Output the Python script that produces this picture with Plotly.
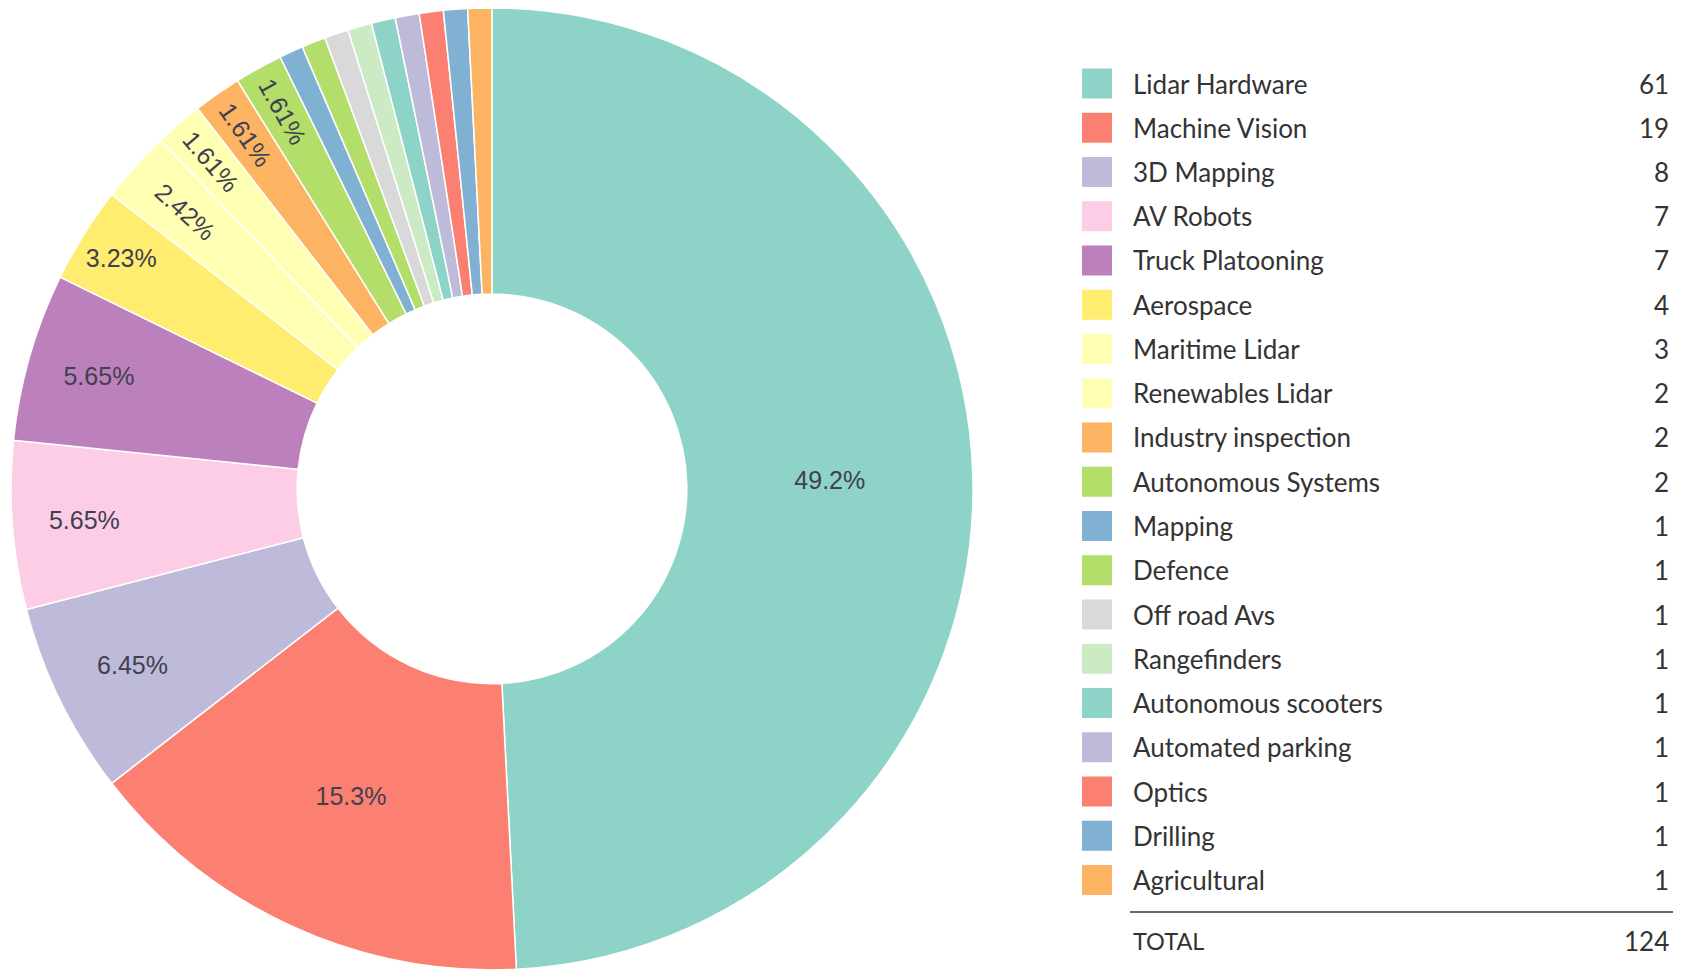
import plotly.graph_objects as go

categories = ["Lidar Hardware", "Machine Vision", "3D Mapping", "AV Robots", "Truck Platooning",
              "Aerospace", "Maritime Lidar", "Renewables Lidar", "Industry inspection",
              "Autonomous Systems", "Mapping", "Defence", "Off road Avs", "Rangefinders",
              "Autonomous scooters", "Automated parking", "Optics", "Drilling", "Agricultural"]
values = [61, 19, 8, 7, 7, 4, 3, 2, 2, 2, 1, 1, 1, 1, 1, 1, 1, 1, 1]
colors = ["#8dd3c7", "#fb8072", "#bebada", "#fccde5", "#bc80bd",
          "#ffed6f", "#ffffb3", "#ffffb3", "#fdb462",
          "#b3de69", "#80b1d3", "#b3de69", "#d9d9d9", "#ccebc5",
          "#8dd3c7", "#bebada", "#fb8072", "#80b1d3", "#fdb462"]

W, H = 1688, 970
total = sum(values)

textpos = ["inside" if v > 1 else "none" for v in values]

fig = go.Figure()
fig.add_trace(go.Pie(
    labels=categories, values=values, sort=False, direction="clockwise", rotation=0,
    hole=0.405,
    marker=dict(colors=colors, line=dict(color="white", width=1.5)),
    textinfo="percent", textposition=textpos, insidetextorientation="auto",
    textfont=dict(family="Liberation Sans, Arial", size=25, color="#404050"),
    domain=dict(x=[11 / W, 973 / W], y=[0.0, 0.992]),
    showlegend=False, hoverinfo="label+value+percent",
))

# Custom legend table
row0 = 83.5
step = 44.25
sq_x0, sq_x1 = 1082, 1112
label_x = 1131
value_x = 1671
font_leg = dict(family="Lato, Noto Sans, sans-serif", size=26, color="#333333")

def px(x):
    return x / W

def py(y):
    return 1 - y / H

shapes = []
annotations = []
for i, (c, v, col) in enumerate(zip(categories, values, colors)):
    yc = row0 + i * step
    shapes.append(dict(type="rect", xref="paper", yref="paper",
                       x0=px(sq_x0), x1=px(sq_x1), y0=py(yc - 15), y1=py(yc + 15),
                       fillcolor=col, line=dict(width=0)))
    annotations.append(dict(x=px(label_x), y=py(yc), xref="paper", yref="paper",
                            text=c, showarrow=False, xanchor="left", yanchor="middle",
                            font=font_leg))
    annotations.append(dict(x=px(value_x), y=py(yc), xref="paper", yref="paper",
                            text=str(v), showarrow=False, xanchor="right", yanchor="middle",
                            font=font_leg))

line_y = 912
shapes.append(dict(type="line", xref="paper", yref="paper",
                   x0=px(1130), x1=px(1673), y0=py(line_y), y1=py(line_y),
                   line=dict(color="#333333", width=1.5)))
annotations.append(dict(x=px(label_x), y=py(941), xref="paper", yref="paper",
                        text="TOTAL", showarrow=False, xanchor="left", yanchor="middle",
                        font=dict(family="Lato, Noto Sans, sans-serif", size=23.5, color="#333333")))
annotations.append(dict(x=px(value_x), y=py(941), xref="paper", yref="paper",
                        text=str(total), showarrow=False, xanchor="right", yanchor="middle",
                        font=font_leg))

fig.update_layout(
    width=W, height=H,
    margin=dict(l=0, r=0, t=0, b=0),
    paper_bgcolor="white", plot_bgcolor="white",
    shapes=shapes, annotations=annotations,
)

fig.write_html("out.html", config={"displayModeBar": False},
               post_script="document.body.style.margin='0';")
